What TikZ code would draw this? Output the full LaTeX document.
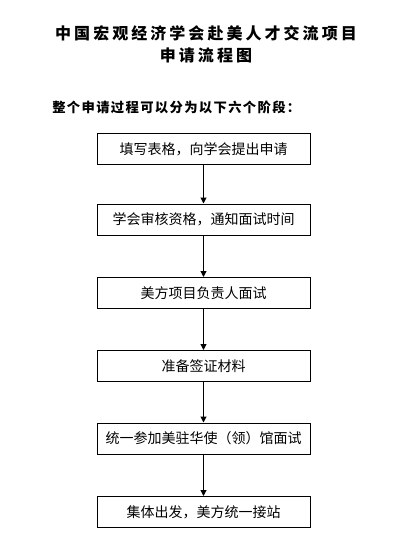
\documentclass[tikz,border=0pt]{standalone}
\usepackage{fontspec}
\usepackage{tikz}
\usetikzlibrary{arrows.meta,positioning}
\newfontfamily\cjk{Noto Sans CJK SC}
\newfontfamily\cjktitle[LetterSpace=19]{Noto Sans CJK SC}
\newfontfamily\cjklead[LetterSpace=10]{Noto Sans CJK SC}

\begin{document}
\begin{tikzpicture}[x=0.75pt,y=-0.75pt,>={Triangle[width=4.5pt,length=4.5pt]},
    stage/.style={draw,line width=0.75pt,minimum width=159.75pt,minimum height=23.25pt,
      inner sep=0pt,font=\cjk\fontsize{10.5}{12}\selectfont},
    link/.style={->,line width=0.75pt}]
    \useasboundingbox (0,0) rectangle (400,550);
    \node[align=center,font=\cjktitle\bfseries\fontsize{12}{16.5}\selectfont] (title) at (206,44)
      {中国宏观经济学会赴美人才交流项目\\申请流程图};
    \node[anchor=west,inner sep=0pt,font=\cjklead\bfseries\fontsize{10}{12}\selectfont] (lead) at (52,107)
      {整个申请过程可以分为以下六个阶段：};

    \node[stage] (fill) at (203.5,149) {填写表格，向学会提出申请};
    \node[stage] (check) at (203.5,219.5) {学会审核资格，通知面试时间};
    \node[stage] (usint) at (203.5,293) {美方项目负责人面试};
    \node[stage] (visa) at (203.5,366) {准备签证材料};
    \node[stage] (embassy) at (203.5,438.5) {统一参加美驻华使（领）馆面试};
    \node[stage] (depart) at (203.5,512) {集体出发，美方统一接站};

    \draw[link] (fill)--(check);
    \draw[link] (check)--(usint);
    \draw[link] (usint)--(visa);
    \draw[link] (visa)--(embassy);
    \draw[link] (embassy)--(depart);
  \end{tikzpicture}
\end{document}
